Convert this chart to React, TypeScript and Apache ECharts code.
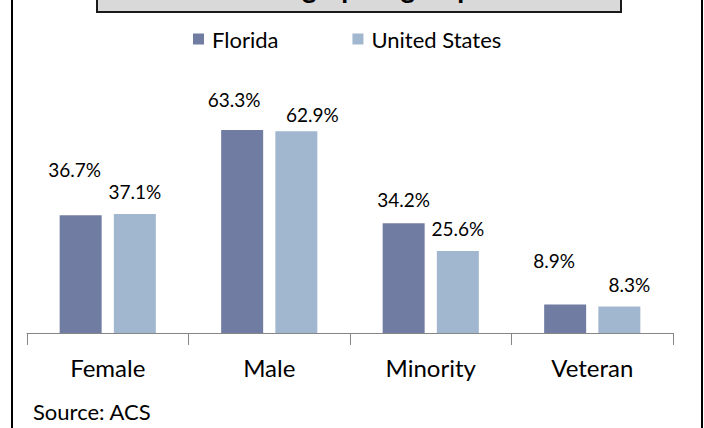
import React, { useEffect, useRef } from "react";
import * as echarts from "echarts";

const categories = ["Female", "Male", "Minority", "Veteran"];
const floridaValues = [36.7, 63.3, 34.2, 8.9];
const usValues = [37.1, 62.9, 25.6, 8.3];
const seriesNames = ["Florida", "United States"];
const titleText = "Demographic groups";
const sourceText = "Source: ACS";

const FONT = "Lato, 'Liberation Sans', sans-serif";

// label nudges (styling only), per bar: [dx, dy]
const floridaLabelNudge = [[-6, -31], [-8, -16], [0, -9], [-11, -29]];
const usLabelNudge = [[0, -8], [16, -2], [0, -8], [10, -7]];

export default function App() {
  const ref = useRef<HTMLDivElement>(null);
  useEffect(() => {
    document.body.style.margin = "0";
    if (!ref.current) return;
    const chart = echarts.init(ref.current, null, { renderer: "svg" });
    const mk = (vals: number[], nudge: number[][]) =>
      vals.map((v, i) => ({
        value: v,
        label: { offset: nudge[i] },
      }));
    const labelBase = {
      show: true,
      position: "top",
      distance: 5,
      fontFamily: FONT,
      fontSize: 19,
      color: "#000",
      formatter: (p: any) => p.value.toFixed(1) + "%",
    };
    chart.setOption({
      animation: false,
      backgroundColor: "#fff",
      legend: {
        left: 188,
        top: 23,
        itemWidth: 11,
        itemHeight: 11,
        itemGap: 74,
        icon: "rect",
        textStyle: { fontFamily: FONT, fontSize: 22, color: "#000", padding: [0, 0, 0, 3] },
        data: seriesNames,
      },
      grid: { left: 27, right: 31, top: 108.5, bottom: 95 },
      xAxis: {
        type: "category",
        data: categories,
        axisLine: { lineStyle: { color: "#868686", width: 1 } },
        axisTick: { show: true, length: 12, lineStyle: { color: "#868686" } },
        axisLabel: { fontFamily: FONT, fontSize: 24, color: "#000", margin: 22 },
      },
      yAxis: {
        type: "value",
        min: 0,
        max: 70,
        show: false,
        splitLine: { show: false },
      },
      series: [
        {
          name: seriesNames[0],
          type: "bar",
          barWidth: 42,
          barGap: "29%",
          itemStyle: { color: "#717ca2" },
          label: labelBase,
          data: mk(floridaValues, floridaLabelNudge),
        },
        {
          name: seriesNames[1],
          type: "bar",
          barWidth: 42,
          itemStyle: { color: "#a1b7cf" },
          label: labelBase,
          data: mk(usValues, usLabelNudge),
        },
      ],
      graphic: [
        {
          type: "rect",
          shape: { x: 12, y: -10, width: 690, height: 450 },
          style: { fill: "none", stroke: "#000", lineWidth: 2 },
          silent: true,
        },
        {
          type: "rect",
          shape: { x: 97, y: -30, width: 524, height: 42 },
          style: { fill: "#d9d9d9", stroke: "#1a1a1a", lineWidth: 2 },
          silent: true,
        },
        {
          type: "text",
          x: 356,
          y: 1,
          style: {
            text: titleText,
            fontFamily: FONT,
            fontSize: 28,
            fontWeight: "bold",
            fill: "#000",
            align: "center",
            verticalAlign: "bottom",
          },
          silent: true,
        },
        {
          type: "text",
          x: 33,
          y: 411,
          style: {
            text: sourceText,
            fontFamily: FONT,
            fontSize: 22,
            fill: "#000",
            align: "left",
            verticalAlign: "middle",
          },
          silent: true,
        },
      ],
    });
    return () => chart.dispose();
  }, []);
  return <div ref={ref} style={{ width: 704, height: 428 }} />;
}
